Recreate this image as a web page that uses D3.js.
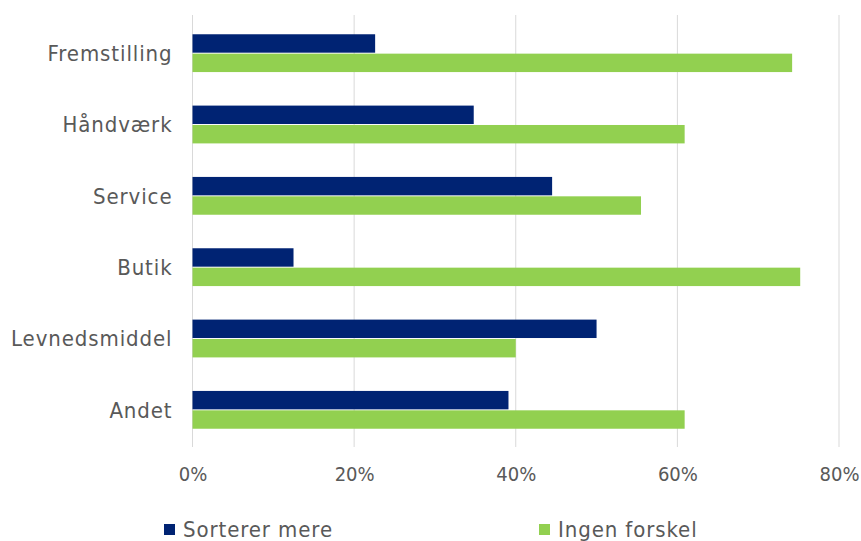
<!DOCTYPE html>
<html><head><meta charset="utf-8">
<script src="https://cdn.jsdelivr.net/npm/d3@7"></script>
<style>body{margin:0;background:#fff}svg{display:block}text{font-family:"DejaVu Sans Condensed","DejaVu Sans",sans-serif;fill:#595959}</style>
</head><body><svg id="c" width="861" height="541"></svg>
<script>
const categories = ["Fremstilling","Håndværk","Service","Butik","Levnedsmiddel","Andet"];
const seriesNames = ["Sorterer mere","Ingen forskel"];
const sortererMere = [0.226,0.348,0.445,0.125,0.500,0.391];
const ingenForskel = [0.742,0.609,0.555,0.752,0.400,0.609];
const tickValues = [0,0.2,0.4,0.6,0.8];
const colors = ["#002373","#92D050"];

const svg = d3.select("#c");
const x = d3.scaleLinear().domain([0,0.8]).range([192.5,839]);
const y = d3.scaleBand().domain(categories).range([15,448]).paddingInner(0.47).paddingOuter(0.27);
const y1 = d3.scaleBand().domain(seriesNames).range([0,y.bandwidth()]).paddingInner(0.05);

svg.append("g").selectAll("line").data(tickValues).join("line")
  .attr("x1",d=>x(d)).attr("x2",d=>x(d)).attr("y1",15).attr("y2",447)
  .attr("stroke","#d9d9d9").attr("stroke-width",1);

const data = categories.map((c,i)=>({c, v:[sortererMere[i], ingenForskel[i]]}));
const g = svg.append("g").selectAll("g").data(data).join("g")
  .attr("transform",d=>`translate(0,${y(d.c)})`);
g.selectAll("rect").data(d=>d.v.map((v,j)=>({v,s:seriesNames[j],j}))).join("rect")
  .attr("x",x(0)).attr("y",d=>y1(d.s)).attr("height",y1.bandwidth())
  .attr("width",d=>x(d.v)-x(0)).attr("fill",d=>colors[d.j]);

const ya = svg.append("g").attr("transform",`translate(${x(0)},0)`)
  .call(d3.axisLeft(y).tickSize(0).tickPadding(20));
ya.select(".domain").remove();
ya.selectAll("text").style("font-size","22px").style("letter-spacing","0.9px")
  .style("fill","#595959").style("font-family",null).attr("dy","0.36em");

const xa = svg.append("g").attr("transform","translate(0,467)")
  .call(d3.axisBottom(x).tickValues(tickValues).tickFormat(d3.format(".0%")).tickSize(0).tickPadding(0));
xa.select(".domain").remove();
xa.selectAll("text").style("font-size","20px").style("fill","#595959").style("font-family",null);

const lg = svg.append("g");
const lx = [164,539];
seriesNames.forEach((s,i)=>{
  lg.append("rect").attr("x",lx[i]).attr("y",524).attr("width",11).attr("height",11).attr("fill",colors[i]);
  lg.append("text").attr("x",lx[i]+19).attr("y",537).style("font-size","22px").style("letter-spacing","0.9px").text(s);
});
</script></body></html>
